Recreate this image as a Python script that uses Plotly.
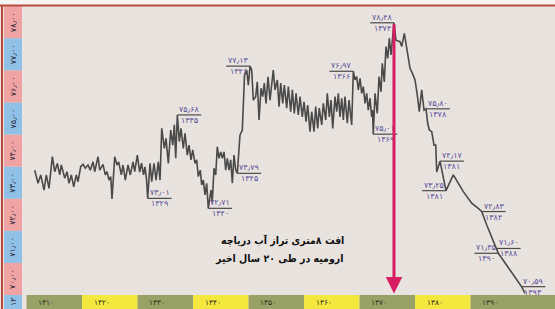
import plotly.graph_objects as go

# ---------------- data (lake level, m above 1200, by Iranian year) ----------------
years = [1307.96, 1308.56, 1309.05, 1309.64, 1310.05, 1310.54, 1311.14, 1311.57, 1312.04, 1312.47,
         1312.76, 1313.37, 1313.78, 1314.14, 1314.56, 1314.99, 1315.46, 1315.77, 1316.25, 1316.67,
         1317.08, 1317.57, 1317.98, 1318.47, 1318.77, 1319.37, 1319.68, 1320.27, 1320.68, 1320.99,
         1321.35, 1321.66, 1321.89, 1322.38, 1322.79, 1323.10, 1323.57, 1323.87, 1324.29, 1324.77,
         1325.19, 1325.68, 1325.98, 1326.45, 1326.88, 1327.21, 1327.57, 1327.84, 1328.11, 1328.32,
         1328.74, 1329.05, 1329.46, 1329.82, 1330.23, 1330.54, 1330.85, 1331.32, 1331.62, 1332.04,
         1332.47, 1332.83, 1333.12, 1333.37, 1333.66, 1334.02, 1334.32, 1334.74, 1335.05, 1335.46,
         1335.77, 1336.13, 1336.43, 1336.85, 1337.15, 1337.44, 1337.80, 1338.05, 1338.34, 1338.65,
         1338.95, 1339.24, 1339.73, 1339.96, 1340.27, 1340.58, 1340.86, 1341.17, 1341.48, 1341.77,
         1342.07, 1342.38, 1342.67, 1342.97, 1343.28, 1343.57, 1343.87, 1344.18, 1344.47, 1344.95,
         1345.37, 1345.77, 1346.16, 1346.45, 1346.76, 1347.06, 1347.35, 1347.78, 1348.07, 1348.38,
         1348.74, 1349.05, 1349.33, 1349.64, 1350.00, 1350.36, 1350.95, 1351.26, 1351.68, 1351.98,
         1352.29, 1352.65, 1352.94, 1353.37, 1353.66, 1354.09, 1354.38, 1354.74, 1355.05, 1355.46,
         1355.77, 1356.18, 1356.49, 1356.85, 1357.15, 1357.57, 1357.87, 1358.29, 1358.59, 1358.95,
         1359.24, 1359.68, 1359.96, 1360.40, 1360.68, 1361.05, 1361.35, 1361.66, 1362.07, 1362.38,
         1362.67, 1362.97, 1363.28, 1363.57, 1363.87, 1364.29, 1364.59, 1365.08, 1365.37, 1365.68,
         1365.98, 1366.27, 1366.58, 1366.88, 1367.17, 1367.48, 1367.78, 1368.07, 1368.38, 1368.68,
         1368.83, 1368.97, 1369.28, 1369.69, 1370.00, 1370.36, 1370.59, 1370.95, 1371.26, 1371.57,
         1371.86, 1372.16, 1372.70, 1373.06, 1373.78, 1374.09, 1374.56, 1374.99, 1375.59, 1376.00,
         1376.49, 1376.90, 1377.26, 1377.69, 1378.11, 1378.47, 1378.77, 1379.06, 1379.50, 1379.91,
         1380.22, 1380.40, 1380.99, 1382.07, 1383.39, 1385.19, 1386.70, 1387.89, 1388.50, 1389.41,
         1390.31, 1391.21, 1391.50, 1393.60, 1395.10, 1395.68, 1396.31]

levels = [73.89, 73.48, 73.74, 73.27, 73.74, 73.32, 74.31, 73.84, 74.10, 73.74,
          74.05, 73.64, 73.84, 73.48, 73.74, 73.37, 73.74, 73.53, 74.00, 74.07,
          73.95, 74.05, 73.89, 74.15, 73.84, 74.31, 73.89, 74.07, 73.74, 73.84,
          73.58, 73.69, 72.99, 74.31, 74.05, 74.15, 73.74, 74.05, 73.58, 74.05,
          73.74, 74.15, 73.84, 74.36, 73.83, 74.11, 73.74, 73.99, 73.61, 73.01,
          74.10, 73.53, 74.10, 73.58, 74.15, 73.58, 75.19, 74.57, 74.88, 74.10,
          75.14, 74.67, 75.30, 74.26, 75.61, 74.78, 75.19, 74.57, 75.04, 74.36,
          74.67, 74.21, 74.52, 74.10, 74.21, 73.69, 73.89, 73.43, 73.58, 73.12,
          73.48, 72.70, 73.27, 72.91, 73.95, 73.74, 74.62, 74.26, 74.46, 74.26,
          74.46, 73.89, 74.26, 73.89, 74.21, 73.48, 74.36, 73.89, 73.79, 74.98,
          75.14, 76.85, 77.01, 76.54, 77.13, 77.01, 76.07, 76.18, 76.64, 75.45,
          76.44, 76.18, 76.60, 75.97, 76.80, 76.07, 77.01, 76.39, 76.70, 75.87,
          76.60, 75.97, 76.54, 75.82, 76.49, 75.71, 76.39, 75.66, 76.28, 75.61,
          76.18, 75.55, 76.02, 75.40, 75.92, 75.09, 75.71, 75.09, 75.87, 75.19,
          75.82, 75.30, 75.97, 75.45, 76.28, 75.55, 76.07, 75.19, 76.18, 75.71,
          76.28, 75.55, 76.13, 75.45, 76.18, 75.35, 76.07, 75.30, 76.97, 76.70,
          76.80, 76.39, 76.75, 76.28, 76.49, 75.97, 76.28, 75.76, 76.13, 75.55,
          75.76, 75.01, 76.28, 75.66, 76.80, 76.33, 77.22, 76.64, 77.74, 77.37,
          78.00, 77.48, 78.48, 77.94, 77.89, 77.74, 78.15, 77.63, 77.06, 76.91,
          76.70, 76.23, 75.71, 76.39, 75.76, 75.80, 75.35, 75.14, 75.09, 74.67,
          74.67, 73.83, 74.17, 73.25, 73.74, 73.22, 72.86, 72.70, 72.60, 72.18,
          71.82, 71.45, 71.30, 70.78, 70.41, 70.26, 70.05]

# annotated points: index into the series, labelled level, labelled year, side of label
label_index = [49, 64, 81, 98, 104, 158, 171, 182, 195, 202, 203, 208, 211, 212, 215]
label_value = [73.01, 75.68, 72.71, 73.79, 77.13, 76.97, 75.01, 78.48, 75.80, 74.17, 73.25, 72.83, 71.60, 71.35, 70.59]
label_year = [1329, 1335, 1340, 1345, 1346, 1366, 1369, 1374, 1378, 1381, 1381, 1384, 1388, 1390, 1393]
label_side = [1, 1, 1, 1, -1, -1, 1, -1, 1, 1, -1, 1, 1, -1, 1]

decades = [1310, 1320, 1330, 1340, 1350, 1360, 1370, 1380, 1390]
level_bands = [70, 71, 72, 73, 74, 75, 76, 77, 78]
corner_label = "12"

title_lines = ["افت ۸متری تراز آب دریاچه", "ارومیه در طی ۲۰ سال اخیر"]

# ---------------- helpers / styles ----------------
FA = str.maketrans("0123456789.", "۰۱۲۳۴۵۶۷۸۹٫")


def fa(s):
    return str(s).translate(FA)


XR = [1301.71, 1401.71]
YR = [69.564, 79.19]
BG = "#e8e3de"
PINK = "#f0a3a3"
BLUE = "#90c0e6"
OLIVE = "#98a166"
YELLOW = "#f4e83e"
LINE = "#4a4a4a"
PURPLE = "#5b4e9c"
RED = "#b84a3e"
ARROW = "#d81e63"
FONT = "DejaVu Sans"
CAPFONT = "DejaVu Sans Condensed, DejaVu Sans"
W, H = 555, 309

fig = go.Figure()
fig.add_trace(go.Scatter(x=years, y=levels, mode="lines",
                         line=dict(color=LINE, width=1.6), hoverinfo="skip"))

shapes = []
annots = []

# top light band and red frame lines
shapes.append(dict(type="rect", xref="paper", yref="paper", x0=0, x1=1, y0=1 - 5 / H, y1=1,
                   fillcolor="#f6f4f2", line_width=0, layer="below"))
shapes.append(dict(type="line", xref="paper", yref="paper", x0=0, x1=1, y0=1 - 5.5 / H, y1=1 - 5.5 / H,
                   line=dict(color=RED, width=2)))
shapes.append(dict(type="line", xref="paper", yref="paper", x0=2 / W, x1=2 / W, y0=0, y1=1 - 5.5 / H,
                   line=dict(color=RED, width=2)))

# left level strip
sx0, sx1 = 4 / W, 22 / W
for v in level_bands:
    shapes.append(dict(type="rect", xref="paper", yref="y", x0=sx0, x1=sx1, y0=v, y1=v + 1,
                       fillcolor=PINK if v % 2 == 0 else BLUE, line_width=0, layer="below"))
    annots.append(dict(xref="paper", yref="y", x=(sx0 + sx1) / 2, y=v + 0.5, text=fa(f"{v}.00"),
                       xanchor="center", yanchor="middle",
                       textangle=-90, showarrow=False, font=dict(family=FONT, size=8, color="#2a2a3a")))
shapes.append(dict(type="rect", xref="paper", yref="y", x0=sx0, x1=sx1, y0=YR[0], y1=min(level_bands),
                   fillcolor=BLUE, line_width=0, layer="below"))
annots.append(dict(xref="paper", yref="y", x=(sx0 + sx1) / 2, y=(YR[0] + min(level_bands)) / 2,
                   xanchor="center", yanchor="middle",
                   text=fa(corner_label), textangle=-90, showarrow=False,
                   font=dict(family=FONT, size=8, color="#2a2a3a")))

# bottom year strip
for i, d in enumerate(decades):
    x1 = d + 6.5 if i < len(decades) - 1 else XR[1]
    shapes.append(dict(type="rect", xref="x", yref="y", x0=d - 3.5, x1=x1, y0=YR[0], y1=min(level_bands),
                       fillcolor=OLIVE if i % 2 == 0 else YELLOW, line_width=0, layer="below"))
    annots.append(dict(xref="x", yref="y", x=d, y=(YR[0] + min(level_bands)) / 2, text=fa(d),
                       showarrow=False, font=dict(family=FONT, size=7.5, color="#2f2f20")))

# point labels: horizontal rule with value above and year below
seg = 4.3
for idx, val, yr, side in zip(label_index, label_value, label_year, label_side):
    x, y = years[idx], levels[idx]
    shapes.append(dict(type="line", xref="x", yref="y", x0=x, x1=x + side * seg, y0=y, y1=y,
                       line=dict(color=LINE, width=1.2)))
    cx = x + side * seg / 2
    annots.append(dict(xref="x", yref="y", x=cx, y=y, yshift=5.5, text=fa(f"{val:.2f}"),
                       showarrow=False, font=dict(family=FONT, size=8, color=PURPLE)))
    annots.append(dict(xref="x", yref="y", x=cx, y=y, yshift=-5.5, text=fa(yr),
                       showarrow=False, font=dict(family=FONT, size=8, color=PURPLE)))

# arrow from the peak down to the axis
peak = levels.index(max(levels))
annots.append(dict(xref="x", yref="y", axref="x", ayref="y", x=years[peak], y=70.05,
                   ax=years[peak], ay=levels[peak], text="", showarrow=True, arrowhead=2,
                   arrowsize=1.1, arrowwidth=3, arrowcolor=ARROW, standoff=0, startstandoff=0))

# caption
for k, t in enumerate(title_lines):
    annots.append(dict(xref="paper", yref="paper", x=346 / W, y=1 - (240 + 18 * k) / H,
                       xanchor="right", yanchor="middle", text="<b>" + t + "</b>", showarrow=False,
                       font=dict(family=CAPFONT, size=10.5, color="#111111")))

fig.update_layout(
    width=W, height=H, margin=dict(l=0, r=0, t=0, b=0),
    paper_bgcolor=BG, plot_bgcolor=BG, showlegend=False,
    xaxis=dict(range=XR, visible=False, fixedrange=True),
    yaxis=dict(range=YR, visible=False, fixedrange=True),
    shapes=shapes, annotations=annots,
)

fig.write_html("out.html", config={"displayModeBar": False})
